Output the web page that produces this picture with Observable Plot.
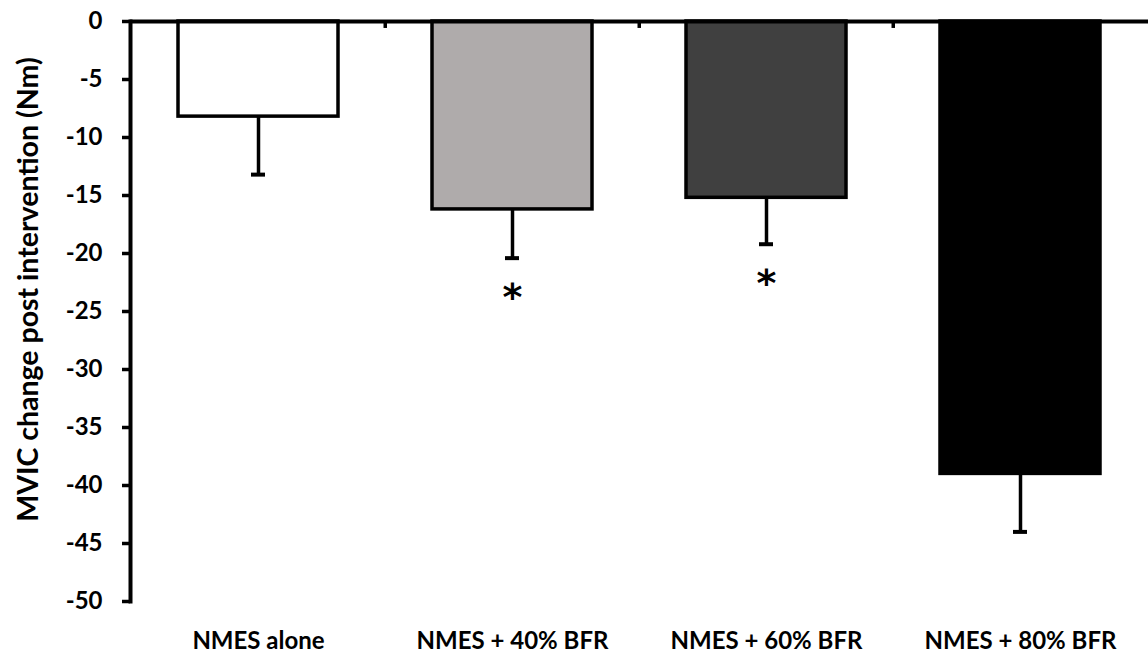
<!DOCTYPE html>
<html>
<head>
<meta charset="utf-8">
<script src="https://cdn.jsdelivr.net/npm/d3@7"></script>
<script src="https://cdn.jsdelivr.net/npm/@observablehq/plot@0.6"></script>
<style>
  html, body { margin: 0; padding: 0; background: #fff; }
</style>
</head>
<body>
<div id="chart"></div>
<script>
const categories = ["NMES alone", "NMES + 40% BFR", "NMES + 60% BFR", "NMES + 80% BFR"];
const means = [-8.2, -16.2, -15.2, -39.0];
const errors = [5.0, 4.2, 4.0, 5.0];
const fills = ["#ffffff", "#afabab", "#404040", "#000000"];
const marks = ["", "*", "*", ""];
const yTicks = [0, -5, -10, -15, -20, -25, -30, -35, -40, -45, -50];
const yTitle = "MVIC change post intervention (Nm)";

const data = categories.map((c, i) => ({cat: c, v: means[i], lo: means[i] - errors[i], sig: marks[i]}));
const boundaries = categories.slice(1);

const W = 1148, H = 652, ML = 130, MR = 0;
const step = (W - ML - MR) / categories.length;

const chart = Plot.plot({
  width: W,
  height: H,
  marginLeft: ML,
  marginRight: MR,
  marginTop: 21,
  marginBottom: 51,
  style: {fontFamily: "Lato, 'Open Sans', sans-serif", fontSize: "24px", fontWeight: "700", color: "#000", background: "#fff", overflow: "visible"},
  x: {domain: categories, paddingInner: 0.37, paddingOuter: 0.185},
  y: {domain: [-50, 0]},
  color: {domain: categories, range: fills},
  marks: [
    Plot.barY(data, {x: "cat", y1: 0, y2: "v", fill: "cat", stroke: "#000", strokeWidth: 3.5, strokeLinejoin: "miter"}),
    Plot.ruleX(data, {x: "cat", y1: "v", y2: "lo", stroke: "#000", strokeWidth: 3.5}),
    Plot.tickY(data, {x: "cat", y: "lo", stroke: "#000", strokeWidth: 4, insetLeft: 73, insetRight: 73}),
    Plot.text(data, {x: "cat", y: "lo", text: "sig", dy: 40, fontSize: 38, fontFamily: "'DejaVu Sans', sans-serif", fontWeight: "700", fill: "#000"}),
    Plot.ruleY([0], {stroke: "#000", strokeWidth: 4}),
    Plot.ruleX(boundaries, {x: d => d, y1: 0, y2: -0.6, dx: -step / 2, stroke: "#000", strokeWidth: 3.5}),
    Plot.frame({anchor: "left", stroke: "#000", strokeWidth: 4}),
    Plot.axisY({ticks: yTicks, tickSize: 8, tickPadding: 20, tickFormat: d => String(d), label: null, strokeWidth: 3.5, fontSize: 24}),
    Plot.axisX({anchor: "bottom", tickSize: 0, tickPadding: 30, label: null, fontSize: 24}),
    Plot.text([yTitle], {frameAnchor: "left", text: d => d, textAnchor: "middle", rotate: -90, dx: -102, dy: -22, fontSize: 28.5, fontWeight: "700", fill: "#000"})
  ]
});

document.getElementById("chart").appendChild(chart);
</script>
</body>
</html>
